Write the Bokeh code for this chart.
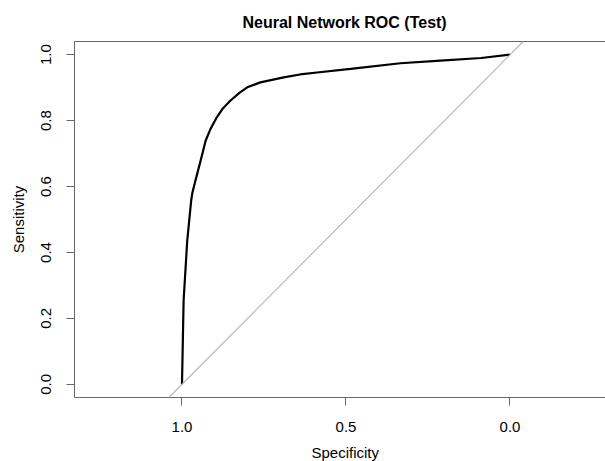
from bokeh.plotting import figure
from bokeh.models import Range1d, FixedTicker, LinearAxis, Slope, Title
from bokeh.embed import file_html
from bokeh.resources import INLINE

# ROC curve
specificity = [1.0, 0.995, 0.984, 0.972, 0.969, 0.959, 0.938, 0.928, 0.913, 0.895,
               0.877, 0.852, 0.825, 0.801, 0.761, 0.690, 0.640, 0.588, 0.486, 0.334,
               0.212, 0.088, 0.0]
sensitivity = [0.0, 0.255, 0.436, 0.557, 0.578, 0.618, 0.699, 0.739, 0.775, 0.808,
               0.835, 0.861, 0.884, 0.901, 0.916, 0.931, 0.940, 0.946, 0.957, 0.974,
               0.982, 0.990, 1.0]

x_ticks = [1.0, 0.5, 0.0]
x_tick_labels = ["1.0", "0.5", "0.0"]
y_ticks = [0.0, 0.2, 0.4, 0.6, 0.8, 1.0]
y_tick_labels = ["0.0", "0.2", "0.4", "0.6", "0.8", "1.0"]

title_text = "Neural Network ROC (Test)"
x_label = "Specificity"
y_label = "Sensitivity"

FONT = "Liberation Sans"
BOX = "#666666"
X_START, X_END = 1.3277, -0.2912

p = figure(width=605, height=461, output_backend="svg", toolbar_location=None,
           x_range=Range1d(X_START, X_END), y_range=Range1d(-0.04, 1.04),
           min_border_left=74, min_border_right=0, min_border_top=41,
           min_border_bottom=64, x_axis_location=None, y_axis_location=None)
p.outline_line_color = None
p.xgrid.visible = False
p.ygrid.visible = False

# bottom axis
xa = LinearAxis(ticker=FixedTicker(ticks=x_ticks),
                major_label_overrides={t: l for t, l in zip(x_ticks, x_tick_labels)})
# left axis
ya = LinearAxis(ticker=FixedTicker(ticks=y_ticks),
                major_label_overrides={t: l for t, l in zip(y_ticks, y_tick_labels)},
                axis_label=y_label)
for ax in (xa, ya):
    ax.axis_line_color = BOX
    ax.axis_line_width = 1
    ax.major_tick_line_color = BOX
    ax.major_tick_in = 0
    ax.major_tick_out = 8
    ax.minor_tick_line_color = None
    ax.major_label_text_font = FONT
    ax.major_label_text_font_size = "15px"
    ax.major_label_text_color = "#000000"
    ax.axis_label_text_font = FONT
    ax.axis_label_text_font_size = "15px"
    ax.axis_label_text_font_style = "normal"
    ax.axis_label_text_color = "#000000"
xa.major_label_standoff = 16
ya.major_label_standoff = 15
ya.axis_label_standoff = 12
ya.major_label_orientation = "vertical"
p.add_layout(xa, "below")
p.add_layout(ya, "left")

# invisible spacer (white tick on white, near the left edge) below the tick labels
spacer = LinearAxis(ticker=FixedTicker(ticks=[X_START - 0.01]), axis_line_color=None,
                    major_tick_line_color="#ffffff", major_tick_in=0, major_tick_out=7,
                    minor_tick_line_color=None, major_label_standoff=0,
                    major_label_text_color=None)
p.add_layout(spacer, "below")

# x label, centred on the R plot region (which runs past the window edge)
p.add_layout(Title(text=x_label, align="left", offset=237, standoff=0,
                   vertical_align="bottom",
                   text_font=FONT, text_font_size="15px", text_font_style="normal",
                   text_color="#000000"), "below")

# top border of the box
ta = LinearAxis(ticker=FixedTicker(ticks=[]), axis_line_color=BOX,
                major_tick_line_color=None, minor_tick_line_color=None,
                major_label_standoff=0, major_label_text_font_size="0px")
p.add_layout(ta, "above")

# title
p.title.text = title_text
p.title.align = "left"
p.title.offset = 168
p.title.vertical_align = "top"
p.title.text_font = FONT
p.title.text_font_size = "16px"
p.title.text_font_style = "bold"
p.title.text_color = "#000000"
p.title.standoff = 18

# diagonal reference line
p.add_layout(Slope(gradient=-1, y_intercept=1, line_color="#b4b4b4", line_width=1.1))

# ROC curve
p.line(specificity, sensitivity, line_color="#000000", line_width=2.2)

open("out.html", "w").write(file_html(p, INLINE))
